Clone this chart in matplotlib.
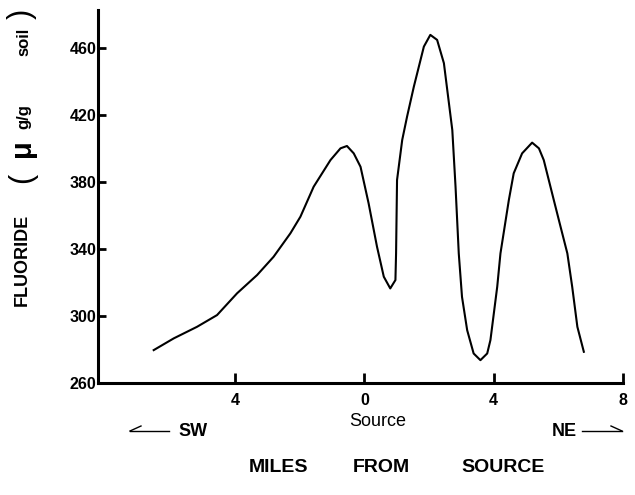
import matplotlib
matplotlib.use('Agg')
import matplotlib.pyplot as plt

plt.rcParams['font.family'] = ['Liberation Sans', 'DejaVu Sans']

# Fluoride in soil vs distance from source (miles, SW negative / NE positive)
miles = [-6.52, -5.90, -5.18, -4.56, -3.94, -3.32, -2.81, -2.29, -1.98, -1.57,
         -1.05, -0.74, -0.54, -0.33, -0.12, 0.13, 0.39, 0.60, 0.80, 0.96,
         0.98, 1.01, 1.17, 1.32, 1.53, 1.84, 2.04, 2.25, 2.46, 2.72,
         2.82, 2.92, 3.02, 3.18, 3.38, 3.59, 3.80, 3.90, 4.11, 4.21,
         4.47, 4.62, 4.88, 5.19, 5.40, 5.55, 5.86, 6.07, 6.28, 6.43,
         6.59, 6.79]
fluoride = [279.7, 286.7, 293.6, 300.6, 313.6, 324.5, 335.4, 349.4, 359.3, 377.2,
            393.1, 400.1, 401.5, 397.1, 389.1, 367.3, 341.4, 323.5, 316.5, 321.5,
            337.4, 381.2, 405.1, 419.0, 436.9, 460.8, 467.8, 464.8, 450.9, 411.0,
            377.2, 337.4, 311.5, 291.6, 277.7, 273.7, 277.7, 285.7, 317.5, 337.4,
            369.3, 385.2, 397.1, 403.5, 400.1, 393.1, 369.3, 353.3, 337.4, 317.5,
            293.6, 278.7]

xticks = [-4, 0, 4, 8]
xtick_labels = ['4', '0', '4', '8']
yticks = [260, 300, 340, 380, 420, 460]


def fx(px):
    return px / 635


def fy(py):
    return 1 - py / 495


fig = plt.figure(figsize=(6.35, 4.95), dpi=100)
ax = fig.add_axes([0.154, 0.226, 0.827, 0.754])

ax.plot(miles, fluoride, color='black', lw=1.5, solid_joinstyle='round')

ax.set_xlim(-8.25, 8)
ax.set_ylim(260, 482.7)
ax.spines['top'].set_visible(False)
ax.spines['right'].set_visible(False)
for s in ['left', 'bottom']:
    ax.spines[s].set_linewidth(2.2)

ax.set_xticks(xticks)
ax.set_xticklabels(xtick_labels, fontsize=11.5, fontweight='bold')
ax.set_yticks(yticks)
ax.set_yticklabels([str(v) for v in yticks], fontsize=11.5, fontweight='bold')
ax.tick_params(axis='x', direction='in', length=7, width=2, pad=7)
ax.tick_params(axis='y', direction='in', length=6, width=2, pad=1)

# x-axis texts
fig.text(fx(378), fy(421), 'Source', fontsize=13, ha='center', va='center')
for word, xc in [('MILES', 279), ('FROM', 381), ('SOURCE', 503)]:
    fig.text(fx(xc), fy(467), word, fontsize=14, fontweight='bold',
             ha='center', va='center')
fig.text(fx(193), fy(431), 'SW', fontsize=13, fontweight='bold', ha='center', va='center')
fig.text(fx(564), fy(431), 'NE', fontsize=13, fontweight='bold', ha='center', va='center')
fig.add_artist(plt.Line2D([fx(130), fx(169)], [fy(431)] * 2, color='black', lw=1))
fig.add_artist(plt.Line2D([fx(130), fx(141)], [fy(431), fy(426)], color='black', lw=1))
fig.add_artist(plt.Line2D([fx(582), fx(622)], [fy(431)] * 2, color='black', lw=1))
fig.add_artist(plt.Line2D([fx(611), fx(622)], [fy(426), fy(431)], color='black', lw=1))

# y-axis texts
fig.text(fx(22), fy(260), 'FLUORIDE', fontsize=13, fontweight='bold',
         rotation=90, ha='center', va='center')
fig.text(fx(22), fy(178), '(', fontsize=22, rotation=90, ha='center', va='center')
fig.text(fx(22), fy(148), 'μ', fontsize=21, fontweight='bold', rotation=90,
         ha='center', va='center')
fig.text(fx(24), fy(117), 'g/g', fontsize=12, fontweight='bold',
         rotation=90, ha='center', va='center')
fig.text(fx(24), fy(42), 'soil', fontsize=12, fontweight='bold',
         rotation=90, ha='center', va='center')
fig.text(fx(22), fy(14), ')', fontsize=22, rotation=90, ha='center', va='center')

fig.savefig('out.png', dpi=100)
